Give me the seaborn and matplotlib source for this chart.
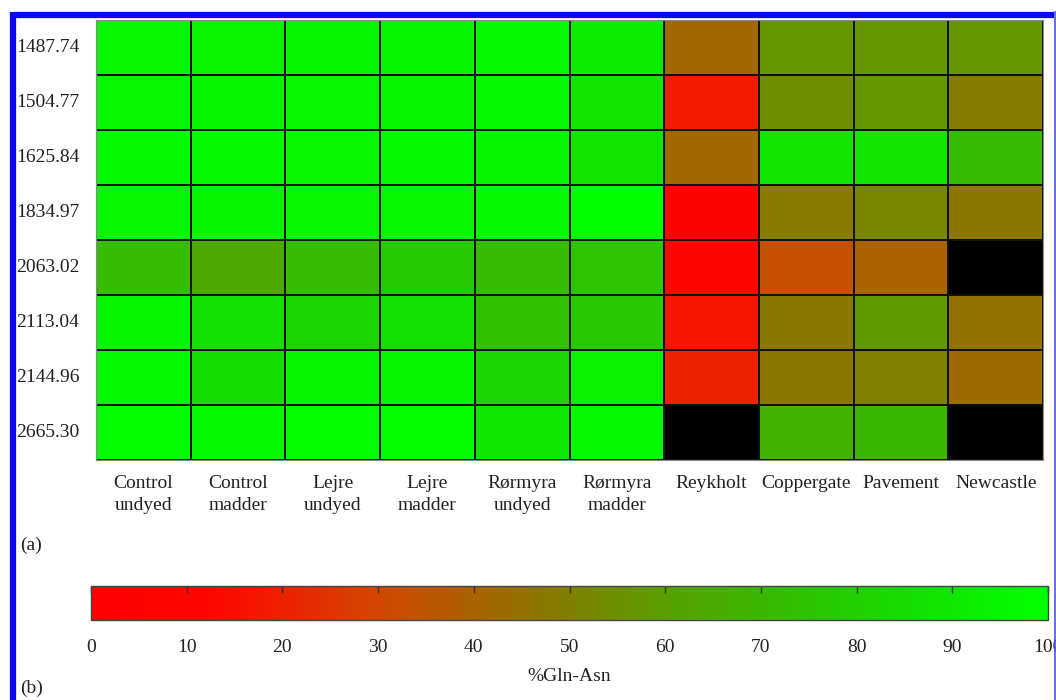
import numpy as np
import pandas as pd
import matplotlib
matplotlib.use("Agg")
import matplotlib.pyplot as plt
from matplotlib.colors import LinearSegmentedColormap
from matplotlib.lines import Line2D
import seaborn as sns

# Peptide masses (rows) and samples (columns)
masses = ["1487.74", "1504.77", "1625.84", "1834.97",
          "2063.02", "2113.04", "2144.96", "2665.30"]
samples = ["Control\nundyed", "Control\nmadder", "Lejre\nundyed", "Lejre\nmadder",
           "Rørmyra\nundyed", "Rørmyra\nmadder", "Reykholt", "Coppergate",
           "Pavement", "Newcastle"]

# %Gln-Asn per mass, one list per row (nan = not measured)
nan = np.nan
r1487 = [96, 94, 95, 95, 97, 92, 42, 57, 57, 57]
r1504 = [96, 95, 96, 95, 97, 88, 18, 54, 57, 49]
r1625 = [97, 97, 96, 97, 95, 88, 42, 88, 89, 72]
r1834 = [96, 95, 96, 96, 97, 99, 5, 48, 52, 47]
r2063 = [72, 64, 72, 78, 72, 75, 10, 33, 40, nan]
r2113 = [95, 86, 82, 86, 74, 77, 17, 47, 58, 45]
r2144 = [97, 85, 95, 95, 82, 93, 20, 47, 50, 43]
r2665 = [98, 97, 98, 98, 90, 97, nan, 68, 70, nan]

data = pd.DataFrame([r1487, r1504, r1625, r1834, r2063, r2113, r2144, r2665],
                    index=masses, columns=samples)

# red -> olive -> green scale
stops = [(0.00, (255, 0, 0)), (0.13, (255, 8, 0)), (0.30, (210, 70, 0)),
         (0.50, (128, 128, 0)), (0.60, (90, 160, 0)), (0.70, (60, 182, 0)),
         (0.80, (32, 208, 0)), (0.90, (14, 232, 0)), (1.00, (0, 255, 0))]
cmap = LinearSegmentedColormap.from_list(
    "gln", [(p, tuple(c / 255 for c in rgb)) for p, rgb in stops])

plt.rcParams["font.family"] = ["Liberation Serif", "DejaVu Serif"]
fs = 14

fig = plt.figure(figsize=(10.56, 7.0), dpi=100)
ax = fig.add_axes([96 / 1056, 1 - 460 / 700, (1043 - 96) / 1056, 440 / 700])
cax = fig.add_axes([91 / 1056, 1 - 620 / 700, (1048 - 91) / 1056, 34 / 700])
ax.set_facecolor("black")

sns.heatmap(data, ax=ax, cmap=cmap, vmin=0, vmax=100,
            linewidths=1.3, linecolor="#111111",
            cbar=True, cbar_ax=cax,
            cbar_kws={"orientation": "horizontal", "ticks": np.arange(0, 101, 10)})

ax.tick_params(axis="both", length=0, labelsize=fs, colors="#222222")
ax.tick_params(axis="y", pad=12)
ax.tick_params(axis="x", pad=11)
ax.set_yticklabels(masses, rotation=0, ha="right")
ax.set_xticklabels(samples, rotation=0, ha="center", linespacing=1.35)
ax.set_xlabel("")
ax.set_ylabel("")
for side in ax.spines.values():
    side.set_visible(True)
    side.set_color("#888888")
    side.set_linewidth(0.8)

cb = ax.collections[0].colorbar
cb.outline.set_edgecolor("#444444")
cb.outline.set_linewidth(1.0)
cax.tick_params(axis="x", top=True, bottom=False, labeltop=False, labelbottom=True,
                direction="in", length=5, width=1, color="#333333",
                labelsize=fs, labelcolor="#222222", pad=14)
cax.set_xlabel("%Gln-Asn", fontsize=fs, color="#222222", labelpad=8)

# panel letters
fig.text(20 / 1056, 1 - 545 / 700, "(a)", fontsize=fs, color="#222222", va="center")
fig.text(20 / 1056, 1 - 688 / 700, "(b)", fontsize=fs, color="#222222", va="center")

# blue frame (top, left, right)
blue = "#0a0af0"
fig.add_artist(Line2D([13 / 1056, 1054 / 1056], [1 - 14.5 / 700, 1 - 14.5 / 700],
                      transform=fig.transFigure, color=blue, lw=4.5,
                      solid_capstyle="butt"))
fig.add_artist(Line2D([13 / 1056, 13 / 1056], [1 - 12 / 700, 0],
                      transform=fig.transFigure, color=blue, lw=4.5,
                      solid_capstyle="butt"))
fig.add_artist(Line2D([1054.5 / 1056, 1054.5 / 1056], [1 - 12 / 700, 0],
                      transform=fig.transFigure, color="#5050f0", lw=1.2))

fig.savefig("out.png", dpi=100, facecolor="white")
